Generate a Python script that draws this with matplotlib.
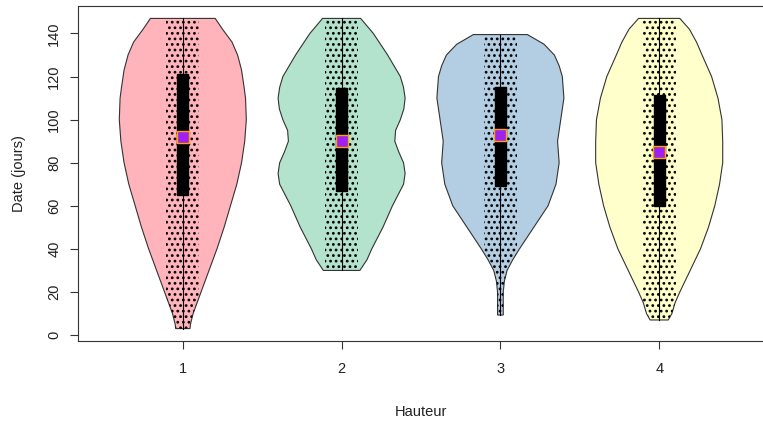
import matplotlib
matplotlib.use('Agg')
import matplotlib.pyplot as plt
from matplotlib.patches import Rectangle, Polygon

plt.rcParams['font.family'] = ['Liberation Sans', 'DejaVu Sans']
plt.rcParams['hatch.linewidth'] = 1.2

# groups (Hauteur) and violin outlines:
# date levels (jours) and half-width of the violin at each level (x units)
groups = [1, 2, 3, 4]
levels = [
    [3, 5, 10, 15, 20, 30, 40, 50, 60, 70, 80, 90, 100, 110, 115, 123, 130, 136, 142, 147],
    [30, 35, 40, 50, 60, 70, 75, 80, 85, 90, 95, 100, 105, 110, 115, 120, 130, 140, 147],
    [9.3, 20, 25, 30, 35, 40, 50, 60, 70, 80, 90, 100, 110, 120, 125, 130, 135, 139.5],
    [7, 10, 15, 20, 30, 40, 50, 60, 70, 80, 90, 100, 110, 120, 130, 136, 142, 147],
]
half_widths = [
    [0.045, 0.048, 0.065, 0.09, 0.115, 0.165, 0.215, 0.26, 0.30, 0.34, 0.37, 0.39, 0.40, 0.395, 0.386, 0.37, 0.345, 0.31, 0.25, 0.204],
    [0.115, 0.16, 0.19, 0.26, 0.32, 0.39, 0.40, 0.39, 0.36, 0.335, 0.34, 0.37, 0.392, 0.40, 0.39, 0.37, 0.29, 0.20, 0.12],
    [0.018, 0.018, 0.025, 0.042, 0.078, 0.12, 0.21, 0.30, 0.35, 0.37, 0.36, 0.38, 0.40, 0.39, 0.37, 0.34, 0.275, 0.17],
    [0.057, 0.08, 0.10, 0.13, 0.195, 0.26, 0.31, 0.35, 0.38, 0.40, 0.40, 0.395, 0.37, 0.33, 0.27, 0.235, 0.19, 0.13],
]
q1 = [65.0, 66.7, 69.0, 59.7]
q3 = [121.4, 114.7, 115.2, 111.6]
medians = [91.9, 89.9, 93.0, 85.0]
colors = ['#FFB3BA', '#B3E2CD', '#B3CDE3', '#FFFFCC']

fig = plt.figure(figsize=(7.63, 4.24), dpi=100)
ax = fig.add_axes([78 / 763, 83 / 424, 686 / 763, 335 / 424])

for i, g in enumerate(groups):
    y = levels[i]
    hw = half_widths[i]
    verts = [(g - w, v) for w, v in zip(hw, y)] + \
            [(g + w, v) for w, v in zip(hw[::-1], y[::-1])]
    violin = Polygon(verts, closed=True, facecolor=colors[i], edgecolor='#333333',
                     linewidth=0.8, zorder=1)
    ax.add_patch(violin)
    # jittered raw points shown as a dotted texture over the data range
    dots = Rectangle((g - 0.105, y[0]), 0.21, y[-1] - y[0], fill=False,
                     hatch='...', edgecolor='black', linewidth=0, zorder=2)
    ax.add_patch(dots)
    dots.set_clip_path(violin)
    ax.plot([g, g], [y[0], y[-1]], color='black', linewidth=0.8, zorder=3)
    ax.add_patch(Rectangle((g - 0.035, q1[i]), 0.07, q3[i] - q1[i],
                           facecolor='black', edgecolor='black', zorder=4))
    ax.plot(g, medians[i], marker='s', markersize=9, markerfacecolor='#A020F0',
            markeredgecolor='#FFA500', markeredgewidth=1.0, zorder=5)

ax.set_xlim(0.34, 4.66)
ax.set_ylim(-2.76, 152.76)
ax.set_xticks(groups)
ax.set_xticklabels([str(g) for g in groups])
ax.set_yticks(range(0, 141, 20))
ax.set_yticklabels([str(v) for v in range(0, 141, 20)], rotation=90, va='center')
ax.tick_params(axis='both', labelsize=10.5, length=6, width=0.8, color='#333333',
               labelcolor='#222222')
ax.tick_params(axis='y', pad=6)
ax.tick_params(axis='x', pad=9)
for s in ax.spines.values():
    s.set_linewidth(0.8)
    s.set_color('#333333')
ax.spines['right'].set_visible(False)  # box edge falls outside the image

fig.text(19 / 763, (424 - 173.5) / 424, 'Date (jours)',
         rotation=90, ha='center', va='center', fontsize=10.5, color='#222222')
fig.text(421 / 763, (424 - 412) / 424, 'Hauteur', ha='center', va='center',
         fontsize=10.5, color='#222222')

fig.savefig('out.png', dpi=100)
